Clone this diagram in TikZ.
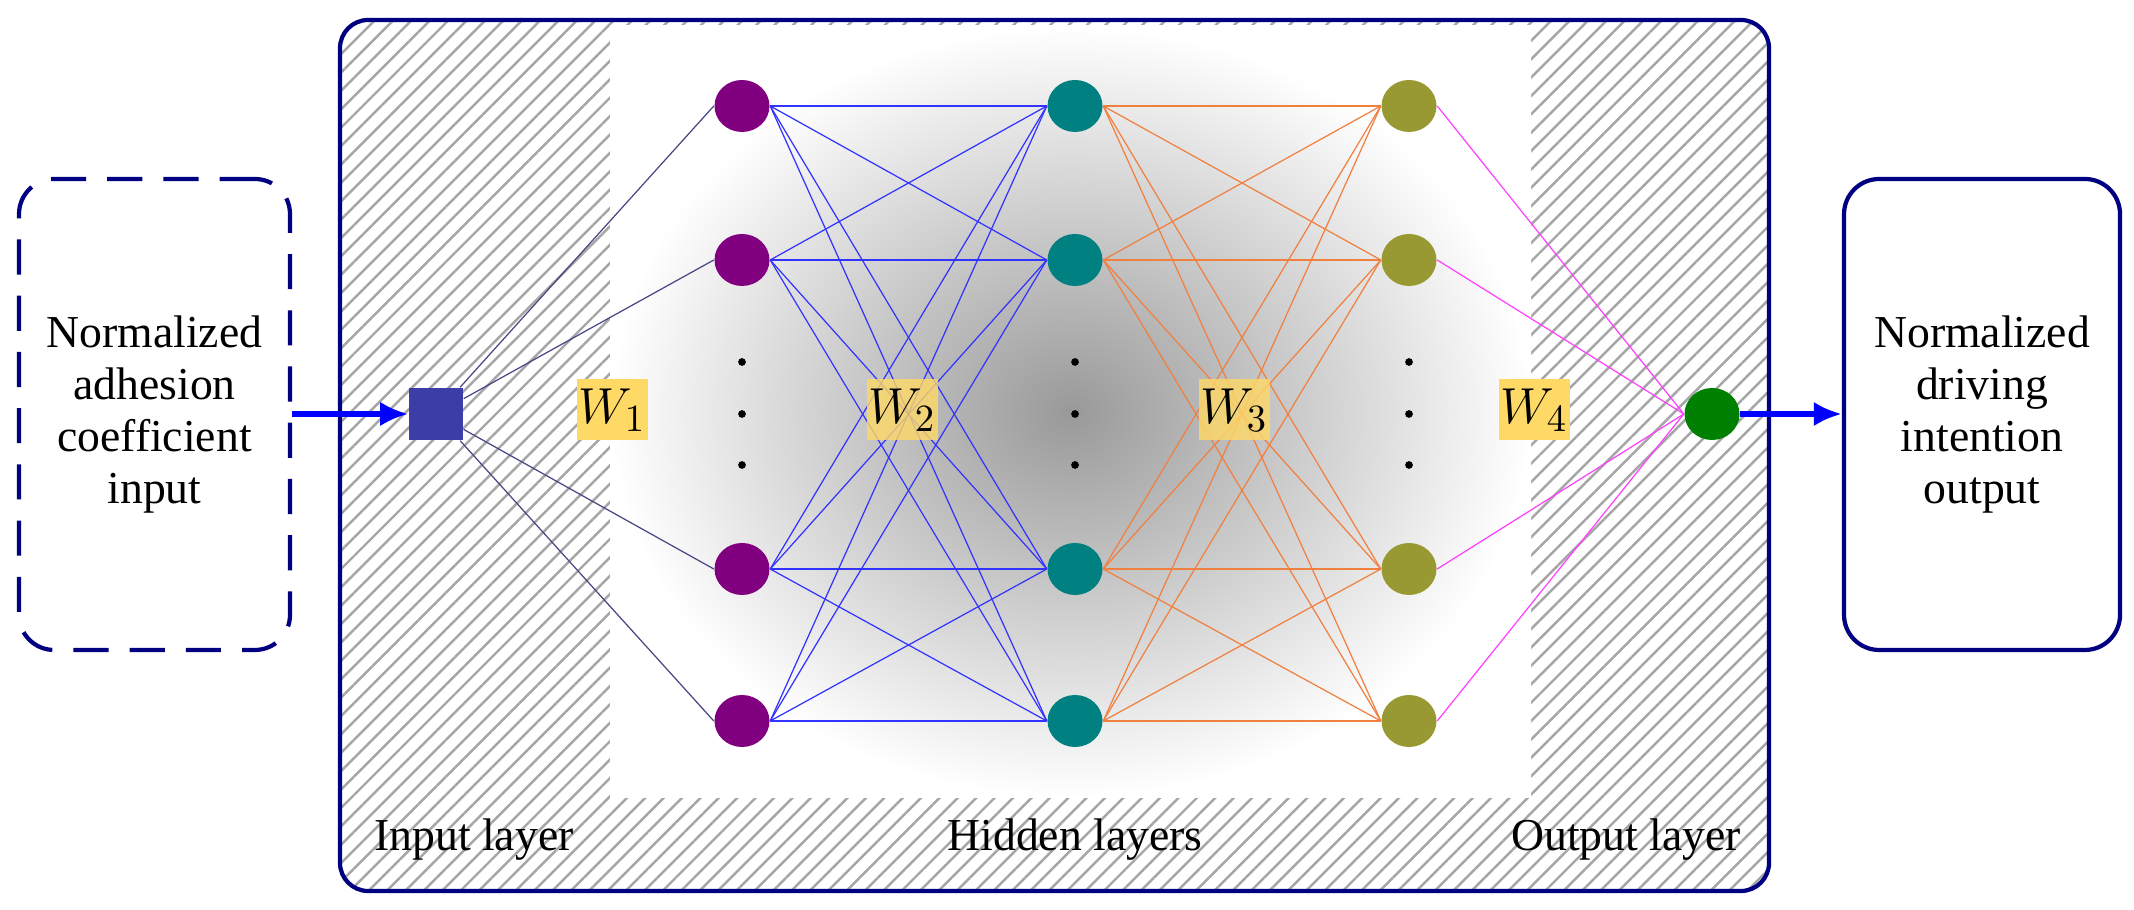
\documentclass[tikz,border=0pt]{standalone}
\usepackage{fontspec}
\setmainfont{Liberation Serif}
\usetikzlibrary{patterns.meta,arrows.meta,shapes.geometric}
\definecolor{navy}{HTML}{000080}
\definecolor{l1}{HTML}{800080}
\definecolor{l2}{HTML}{008080}
\definecolor{l3}{HTML}{999933}
\definecolor{wy}{HTML}{FFD966}
\definecolor{eorange}{HTML}{F08040}
\definecolor{emag}{HTML}{FF40FF}
\begin{document}
\begin{tikzpicture}[
  txt/.style={font=\fontsize{13}{14.8}\selectfont, align=center},
  neu/.style={ellipse, minimum width=0.55cm, minimum height=0.52cm, inner sep=0pt},
  wl/.style={fill=wy, minimum width=0.71cm, minimum height=0.61cm, inner sep=0pt, font=\fontsize{15}{16}\selectfont},
  dot/.style={circle, fill=black, minimum size=2.2pt, inner sep=0pt},
  bigarrow/.style={-{Latex[length=8pt,width=7pt]}, blue, line width=1.6pt},
  edge/.style={line width=0.35pt}
]
\useasboundingbox (0,0) rectangle (21.34,9.10);
% main box
\draw[pattern={Lines[angle=45,distance=0.13cm,line width=0.7pt]}, pattern color=gray!70, draw=none, rounded corners=8pt] (3.40,0.19) rectangle (17.69,8.90);
\fill[white] (6.10,1.12) rectangle (15.31,8.84);
\shade[inner color=gray!80, outer color=white] (6.10,1.12) rectangle (15.31,8.84);
\draw[navy, line width=1.2pt, rounded corners=8pt] (3.40,0.19) rectangle (17.69,8.90);
% side boxes
\node[draw=navy, line width=1.2pt, dashed, dash pattern=on 10pt off 6pt, rounded corners=10pt, minimum width=2.71cm, minimum height=4.71cm, txt] (inbox) at (1.545,4.955) {Normalized\\adhesion\\coefficient\\input};
\node[draw=navy, line width=1.2pt, rounded corners=10pt, minimum width=2.76cm, minimum height=4.71cm, txt] (outbox) at (19.82,4.955) {Normalized\\driving\\intention\\output};
% nodes
\node[fill=blue!40!gray!80!navy, minimum width=0.54cm, minimum height=0.52cm, inner sep=0pt] (in) at (4.36,4.96) {};
\foreach \i/\y in {1/8.04,2/6.50,3/3.41,4/1.89}{
  \node[neu, fill=l1] (a\i) at (7.42,\y) {};
  \node[neu, fill=l2] (b\i) at (10.75,\y) {};
  \node[neu, fill=l3] (c\i) at (14.09,\y) {};
}
\node[neu, fill=green!50!black] (out) at (17.12,4.96) {};
\foreach \x/\n in {7.42/a,10.75/b,14.09/c}{
  \foreach \y/\k in {5.48/1,4.96/2,4.45/3}{
    \node[dot] (d\n\k) at (\x,\y) {};
  }
}
% edges
\foreach \i in {1,...,4}{
  \draw[edge, color=blue!30!gray!80!black] (in) -- (a\i.west);
  \draw[edge, emag] (c\i.east) -- (out.west);
  \foreach \j in {1,...,4}{
    \draw[edge, blue!80] (a\i.east) -- (b\j.west);
    \draw[edge, eorange] (b\i.east) -- (c\j.west);
  }
}
% weight labels
\node[wl] (w1) at (6.12,5.0) {$W_1$};
\node[wl, fill opacity=0.8, text opacity=1] (w2) at (9.02,5.0) {$W_2$};
\node[wl, fill opacity=0.8, text opacity=1] (w3) at (12.34,5.0) {$W_3$};
\node[wl] (w4) at (15.34,5.0) {$W_4$};
% arrows
\draw[bigarrow] (inbox.east |- in) -- (in.west);
\draw[bigarrow] (out.east) -- (outbox.west |- out);
% layer labels
\node[txt] (li) at (4.74,0.70) {Input layer};
\node[txt] (lh) at (10.75,0.70) {Hidden layers};
\node[txt] (lo) at (16.26,0.70) {Output layer};
\end{tikzpicture}
\end{document}
